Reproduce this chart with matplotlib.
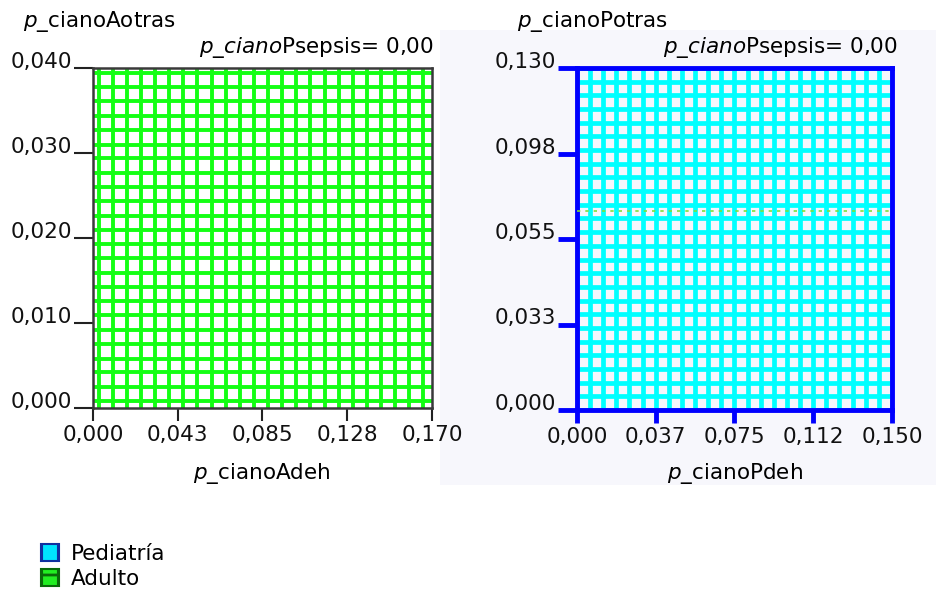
import matplotlib
matplotlib.use("Agg")
import matplotlib.pyplot as plt
from matplotlib.patches import Patch, Rectangle

# valores (rejilla de simulacion)
adulto_x = [0.0028, 0.0099, 0.0170, 0.0241, 0.0312, 0.0382, 0.0453, 0.0524,
            0.0595, 0.0666, 0.0736, 0.0807, 0.0878, 0.0949, 0.1020, 0.1090,
            0.1161, 0.1232, 0.1303, 0.1374, 0.1445, 0.1515, 0.1586, 0.1657]
adulto_y = [0.0008, 0.0025, 0.0042, 0.0058, 0.0075, 0.0092, 0.0109, 0.0126,
            0.0142, 0.0159, 0.0176, 0.0193, 0.0210, 0.0226, 0.0243, 0.0260,
            0.0277, 0.0294, 0.0310, 0.0327, 0.0344, 0.0361, 0.0378, 0.0394]
pediatria_x = [0.0000, 0.0063, 0.0125, 0.0188, 0.0250, 0.0313, 0.0375, 0.0438,
               0.0500, 0.0563, 0.0625, 0.0688, 0.0750, 0.0813, 0.0875, 0.0938,
               0.1000, 0.1063, 0.1125, 0.1188, 0.1250, 0.1313, 0.1375, 0.1438,
               0.1500]
pediatria_y = [0.0000, 0.0052, 0.0104, 0.0156, 0.0208, 0.0260, 0.0312, 0.0364,
               0.0416, 0.0468, 0.0520, 0.0572, 0.0624, 0.0676, 0.0728, 0.0780,
               0.0832, 0.0884, 0.0936, 0.0988, 0.1040, 0.1092, 0.1144, 0.1196,
               0.1248, 0.1300]
linea_verde_y = 0.0756

xt_a = [0.0, 0.0425, 0.085, 0.1275, 0.17]
xt_a_lab = ["0,000", "0,043", "0,085", "0,128", "0,170"]
yt_a = [0.0, 0.01, 0.02, 0.03, 0.04]
yt_a_lab = ["0,000", "0,010", "0,020", "0,030", "0,040"]
xt_p = [0.0, 0.0375, 0.075, 0.1125, 0.15]
xt_p_lab = ["0,000", "0,037", "0,075", "0,112", "0,150"]
yt_p = [0.0, 0.0325, 0.065, 0.0975, 0.13]
yt_p_lab = ["0,000", "0,033", "0,055", "0,098", "0,130"]

plt.rcParams['font.family'] = ['DejaVu Sans']
plt.rcParams['mathtext.fontset'] = 'dejavusans'
plt.rcParams['hatch.linewidth'] = 2
FS = 15.5

W, H = 937, 594
fig = plt.figure(figsize=(W / 100, H / 100), dpi=100)
fig.patch.set_facecolor('white')

# fondo lila claro de la zona derecha
fig.add_artist(Rectangle((440 / W, 1 - 485 / H), 497 / W, 455 / H,
                         transform=fig.transFigure, facecolor='#f7f7fc',
                         edgecolor='none', zorder=0))

axA = fig.add_axes([93 / W, 1 - 408 / H, 339 / W, 340 / H])
axP = fig.add_axes([577 / W, 1 - 410 / H, 315 / W, 342 / H])

# Adulto
axA.set_facecolor('white')
axA.vlines(adulto_x, 0, 0.04, color='#14ff14', lw=2.8)
axA.hlines(adulto_y, 0, 0.17, color='#14ff14', lw=2.8)
axA.set_xlim(0, 0.17)
axA.set_ylim(0, 0.04)
for s in axA.spines.values():
    s.set_color('#3a3a3a')
    s.set_linewidth(1.8)

# Pediatria
axP.set_facecolor('#f6f6fc')
axP.vlines(pediatria_x, 0, 0.13, color='#00ffff', lw=3.4)
axP.hlines(pediatria_y, 0, 0.15, color='#00ffff', lw=3.4)
axP.axhline(linea_verde_y, color='#7ee03a', lw=1.2, ls=(0, (2, 3)), zorder=3)
axP.set_xlim(0, 0.15)
axP.set_ylim(0, 0.13)
for s in axP.spines.values():
    s.set_color('#0000ff')
    s.set_linewidth(3.5)

for ax, xt, xl, yt, yl, col, tw in [(axA, xt_a, xt_a_lab, yt_a, yt_a_lab, '#222222', 1.5),
                                    (axP, xt_p, xt_p_lab, yt_p, yt_p_lab, '#0000ff', 3.5)]:
    ax.set_xticks(xt)
    ax.set_xticklabels(xl)
    ax.set_yticks(yt)
    ax.set_yticklabels(yl)
    ax.tick_params(axis='both', labelsize=FS, color=col, width=tw, labelcolor='#111111')
    ax.tick_params(axis='x', length=9, pad=3)
    ax.tick_params(axis='y', length=14, pad=1)
    for lab in ax.get_yticklabels():
        lab.set_va('baseline')

# titulos de ejes
fig.text(23 / W, 1 - 22 / H, r'$\mathit{p}$_cianoAotras', fontsize=FS, va='center', ha='left')
fig.text(517 / W, 1 - 22 / H, r'$\mathit{p}$_cianoPotras', fontsize=FS, va='center', ha='left')
fig.text(434 / W, 1 - 47 / H, r'$\mathit{p\_ciano}$Psepsis= 0,00', fontsize=FS, va='center', ha='right')
fig.text(898 / W, 1 - 47 / H, r'$\mathit{p\_ciano}$Psepsis= 0,00', fontsize=FS, va='center', ha='right')
fig.text(262 / W, 1 - 474 / H, r'$\mathit{p}$_cianoAdeh', fontsize=FS, va='center', ha='center')
fig.text(735 / W, 1 - 474 / H, r'$\mathit{p}$_cianoPdeh', fontsize=FS, va='center', ha='center')

# leyenda
handles = [Patch(facecolor='#00e5ff', edgecolor='#1030a0', hatch='|', lw=1.5, label='Pediatría'),
           Patch(facecolor='#22ee22', edgecolor='#0a6a0a', hatch='+', lw=1.5, label='Adulto')]
leg = fig.legend(handles=handles, loc='upper left', bbox_to_anchor=(30 / W, 1 - 533 / H),
                 frameon=False, fontsize=FS, handlelength=0.85, handleheight=0.85,
                 handletextpad=0.55, labelspacing=0.25, borderpad=0)

fig.savefig('out.png', dpi=100, facecolor='white')
